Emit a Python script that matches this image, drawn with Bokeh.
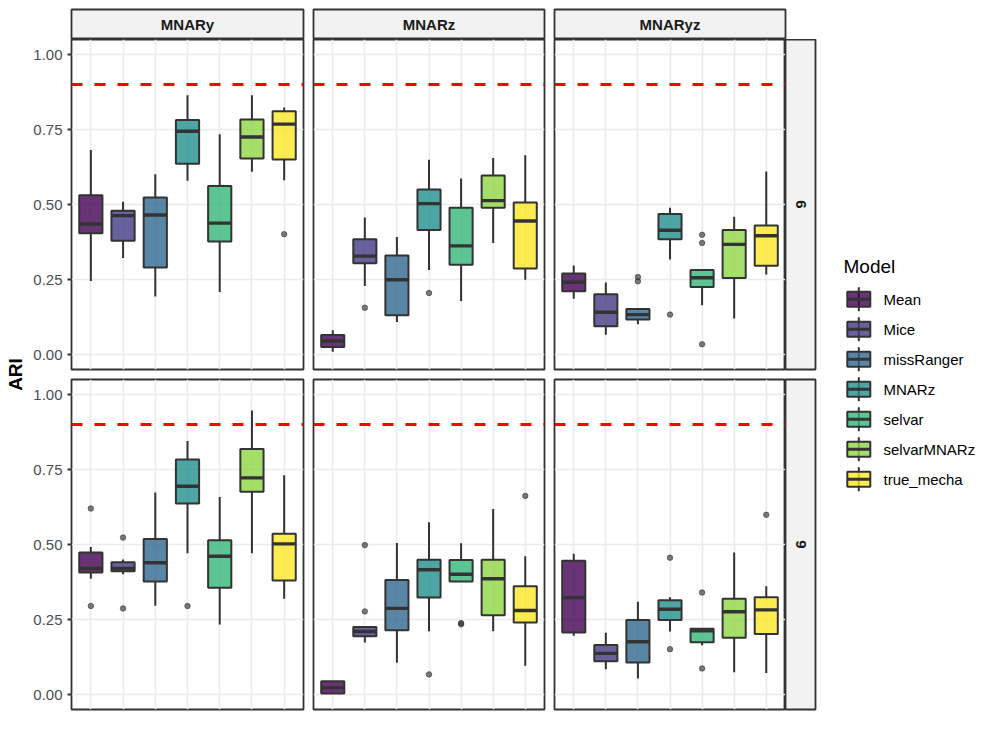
import numpy as np
from bokeh.plotting import figure
from bokeh.layouts import row, column
from bokeh.models import (Range1d, Grid, FixedTicker, LinearAxis, PrintfTickFormatter,
                          Span, ColumnDataSource, Spacer)
from bokeh.core.properties import value
from bokeh.transform import dodge
from bokeh.embed import file_html
from bokeh.resources import INLINE

# ---------------------------------------------------------------- data
models = ["Mean", "Mice", "missRanger", "MNARz", "selvar", "selvarMNARz", "true_mecha"]
mechanisms = ["MNARy", "MNARz", "MNARyz"]
row_labels = ["6", "9"]
palette = ["#440154", "#443A83", "#31688E", "#21908C", "#35B779", "#8FD744", "#FDE725"]
threshold = 0.9
y_ticks = [0.0, 0.25, 0.5, 0.75, 1.0]

# box-plot statistics per facet (row label, mechanism), one value per model
whisker_low = {
    ("6", "MNARy"):  [0.245, 0.322, 0.193, 0.579, 0.208, 0.609, 0.581],
    ("6", "MNARz"):  [0.009, 0.228, 0.108, 0.282, 0.178, 0.372, 0.249],
    ("6", "MNARyz"): [0.186, 0.066, 0.101, 0.317, 0.164, 0.120, 0.267],
    ("9", "MNARy"):  [0.386, 0.401, 0.296, 0.471, 0.233, 0.471, 0.319],
    ("9", "MNARz"):  [0.003, 0.173, 0.106, 0.211, 0.377, 0.211, 0.096],
    ("9", "MNARyz"): [0.196, 0.084, 0.053, 0.210, 0.164, 0.074, 0.072],
}
hinge_low = {
    ("6", "MNARy"):  [0.404, 0.379, 0.290, 0.636, 0.377, 0.653, 0.650],
    ("6", "MNARz"):  [0.025, 0.304, 0.131, 0.415, 0.299, 0.489, 0.287],
    ("6", "MNARyz"): [0.211, 0.094, 0.117, 0.384, 0.225, 0.255, 0.296],
    ("9", "MNARy"):  [0.407, 0.411, 0.377, 0.637, 0.356, 0.676, 0.380],
    ("9", "MNARz"):  [0.003, 0.194, 0.214, 0.323, 0.377, 0.264, 0.240],
    ("9", "MNARyz"): [0.207, 0.111, 0.107, 0.248, 0.174, 0.189, 0.202],
}
medians = {
    ("6", "MNARy"):  [0.435, 0.463, 0.465, 0.744, 0.438, 0.725, 0.768],
    ("6", "MNARz"):  [0.045, 0.328, 0.249, 0.503, 0.362, 0.513, 0.445],
    ("6", "MNARyz"): [0.241, 0.141, 0.133, 0.414, 0.256, 0.367, 0.396],
    ("9", "MNARy"):  [0.420, 0.420, 0.439, 0.694, 0.461, 0.722, 0.502],
    ("9", "MNARz"):  [0.023, 0.210, 0.287, 0.416, 0.401, 0.386, 0.280],
    ("9", "MNARyz"): [0.323, 0.137, 0.176, 0.284, 0.212, 0.276, 0.282],
}
hinge_high = {
    ("6", "MNARy"):  [0.531, 0.479, 0.523, 0.782, 0.562, 0.783, 0.811],
    ("6", "MNARz"):  [0.065, 0.384, 0.330, 0.550, 0.489, 0.597, 0.507],
    ("6", "MNARyz"): [0.270, 0.201, 0.152, 0.468, 0.282, 0.415, 0.430],
    ("9", "MNARy"):  [0.473, 0.441, 0.518, 0.783, 0.514, 0.818, 0.536],
    ("9", "MNARz"):  [0.044, 0.225, 0.382, 0.449, 0.448, 0.449, 0.361],
    ("9", "MNARyz"): [0.446, 0.165, 0.248, 0.314, 0.219, 0.319, 0.324],
}
whisker_high = {
    ("6", "MNARy"):  [0.682, 0.509, 0.601, 0.864, 0.734, 0.864, 0.823],
    ("6", "MNARz"):  [0.081, 0.457, 0.392, 0.649, 0.587, 0.655, 0.664],
    ("6", "MNARyz"): [0.297, 0.240, 0.153, 0.489, 0.282, 0.459, 0.610],
    ("9", "MNARy"):  [0.492, 0.450, 0.673, 0.845, 0.658, 0.947, 0.731],
    ("9", "MNARz"):  [0.044, 0.225, 0.505, 0.574, 0.504, 0.618, 0.461],
    ("9", "MNARyz"): [0.469, 0.206, 0.309, 0.324, 0.221, 0.473, 0.361],
}
outliers = {
    ("6", "MNARy"):  [("true_mecha", 0.401)],
    ("6", "MNARz"):  [("Mice", 0.156), ("MNARz", 0.205)],
    ("6", "MNARyz"): [("missRanger", 0.258), ("missRanger", 0.244), ("MNARz", 0.133),
                      ("selvar", 0.399), ("selvar", 0.372), ("selvar", 0.034)],
    ("9", "MNARy"):  [("Mean", 0.620), ("Mean", 0.295), ("Mice", 0.523), ("Mice", 0.287),
                      ("MNARz", 0.295)],
    ("9", "MNARz"):  [("Mice", 0.498), ("Mice", 0.277), ("MNARz", 0.067),
                      ("selvar", 0.238), ("selvar", 0.234), ("true_mecha", 0.662)],
    ("9", "MNARyz"): [("MNARz", 0.456), ("MNARz", 0.151), ("selvar", 0.340),
                      ("selvar", 0.087), ("true_mecha", 0.599)],
}

# ---------------------------------------------------------------- style
FONT = "Liberation Sans"
EDGE = "#333333"
GRID = "#ebebeb"
STRIP_FILL = "#f2f2f2"
BOX_W = 0.72
B = 2  # breathing room around each panel frame so its outline is not clipped

xpos = list(range(1, len(models) + 1))
xmap = dict(zip(models, xpos))


def base_fig(width, height, xr, yr, left, right, top, bottom):
    p = figure(width=width, height=height, x_range=xr, y_range=yr,
               x_axis_type=None, y_axis_type=None, toolbar_location=None,
               output_backend="svg", min_border_left=left, min_border_right=right,
               min_border_top=top, min_border_bottom=bottom)
    p.border_fill_color = "white"
    p.background_fill_color = "white"
    return p


def panel(key, width, height, left, right, top, bottom, with_axis):
    p = base_fig(width, height, Range1d(0.4, 7.6), Range1d(-0.05, 1.05),
                 left, right, top, bottom)
    p.outline_line_color = EDGE
    p.outline_line_width = 1.8
    p.add_layout(Grid(dimension=0, ticker=FixedTicker(ticks=xpos),
                      grid_line_color=GRID, grid_line_width=1.6))
    p.add_layout(Grid(dimension=1, ticker=FixedTicker(ticks=y_ticks),
                      grid_line_color=GRID, grid_line_width=1.6))
    if with_axis:
        ax = LinearAxis(ticker=FixedTicker(ticks=y_ticks),
                        formatter=PrintfTickFormatter(format="%.2f"))
        ax.axis_line_color = None
        ax.major_tick_line_color = EDGE
        ax.major_tick_line_width = 1.8
        ax.major_tick_out = 4
        ax.major_tick_in = 0
        ax.minor_tick_line_color = None
        ax.major_label_standoff = 5
        ax.major_label_text_font = FONT
        ax.major_label_text_font_size = "15px"
        ax.major_label_text_color = "#4d4d4d"
        p.add_layout(ax, "left")

    p.add_layout(Span(location=threshold, dimension="width", line_color="#ff0000",
                      line_width=3, line_dash="11 12"))

    src = ColumnDataSource(dict(x=xpos, lo=whisker_low[key], q1=hinge_low[key],
                                med=medians[key], q3=hinge_high[key],
                                hi=whisker_high[key], color=palette))
    p.segment(x0="x", y0="lo", x1="x", y1="q1", source=src, line_color=EDGE, line_width=2)
    p.segment(x0="x", y0="q3", x1="x", y1="hi", source=src, line_color=EDGE, line_width=2)
    p.vbar(x="x", width=BOX_W, bottom="q1", top="q3", source=src, fill_color="color",
           fill_alpha=0.8, line_color=EDGE, line_width=2)
    p.segment(x0=dodge("x", -BOX_W / 2), y0="med", x1=dodge("x", BOX_W / 2), y1="med",
              source=src, line_color=EDGE, line_width=3.4)

    ox = [xmap[m] for m, _ in outliers[key]]
    oy = [v for _, v in outliers[key]]
    p.scatter(ox, oy, size=5.5, fill_color=EDGE, fill_alpha=0.65,
              line_color=EDGE, line_alpha=0.75, line_width=0.8)
    return p


def strip(label, width, height, left, right, top, bottom, angle=0.0):
    s = base_fig(width, height, Range1d(0, 1), Range1d(0, 1), left, right, top, bottom)
    s.background_fill_color = STRIP_FILL
    s.outline_line_color = EDGE
    s.outline_line_width = 1.8
    s.text(x=[0.5], y=[0.5], text=[label], angle=angle, text_font=value(FONT),
           text_font_style="bold", text_font_size="15px", text_color="#1a1a1a",
           text_align="center", text_baseline="middle")
    return s


# ---------------------------------------------------------------- facets
FW = [232, 231, 231]   # panel frame widths
FH = 330               # panel frame height
SH = 30                # strip thickness

tops = [strip(m, B + w + B, 9 + SH, B, B, 9, 0) for m, w in zip(mechanisms, FW)]
strip_row = row(Spacer(width=41, height=9 + SH), tops[0], Spacer(width=6, height=9 + SH),
                tops[1], Spacer(width=6, height=9 + SH), tops[2],
                Spacer(width=30, height=9 + SH))

panel_rows = []
for i, r in enumerate(row_labels):
    top_b = 0 if i == 0 else B
    h = top_b + FH + B
    p1 = panel((r, mechanisms[0]), 43 + FW[0] + B, h, 43, B, top_b, B, True)
    p2 = panel((r, mechanisms[1]), B + FW[1] + B, h, B, B, top_b, B, False)
    p3 = panel((r, mechanisms[2]), B + FW[2], h, B, 0, top_b, B, False)
    side = strip(r, SH + B, h, 0, B, top_b, B, angle=-np.pi / 2)
    panel_rows.append(row(p1, Spacer(width=6, height=h), p2, Spacer(width=6, height=h),
                          p3, side))

middle = column(strip_row, panel_rows[0], Spacer(width=789, height=6), panel_rows[1],
                Spacer(width=789, height=36))

# ---------------------------------------------------------------- y title
ytitle = base_fig(28, 747, Range1d(0, 28), Range1d(747, 0), 0, 0, 0, 0)
ytitle.outline_line_color = None
ytitle.text(x=[15], y=[374], text=["ARI"], angle=np.pi / 2, text_font=value(FONT),
            text_font_style="bold", text_font_size="19px", text_color="black",
            text_align="center", text_baseline="middle")

# ---------------------------------------------------------------- legend
leg = base_fig(180, 747, Range1d(817, 997), Range1d(747, 0), 0, 0, 0, 0)
leg.outline_line_color = None
leg.text(x=[843], y=[266], text=["Model"], text_font=value(FONT), text_font_size="19px",
         text_color="black", text_align="left", text_baseline="middle")
key_y = 298.7 + 30 * np.arange(len(models))
key_x = np.full(len(models), 858.3)
leg.segment(x0=key_x, y0=key_y - 12, x1=key_x, y1=key_y + 12, line_color=EDGE, line_width=2)
leg.rect(x=key_x, y=key_y, width=23, height=15, fill_color=palette, fill_alpha=0.8,
         line_color=EDGE, line_width=2)
leg.segment(x0=key_x - 11.5, y0=key_y, x1=key_x + 11.5, y1=key_y, line_color=EDGE,
            line_width=3)
leg.text(x=np.full(len(models), 883.0), y=key_y, text=models, text_font=value(FONT),
         text_font_size="15px", text_color="black", text_align="left",
         text_baseline="middle")

layout = row(ytitle, middle, leg)
open("out.html", "w").write(file_html(layout, INLINE))
